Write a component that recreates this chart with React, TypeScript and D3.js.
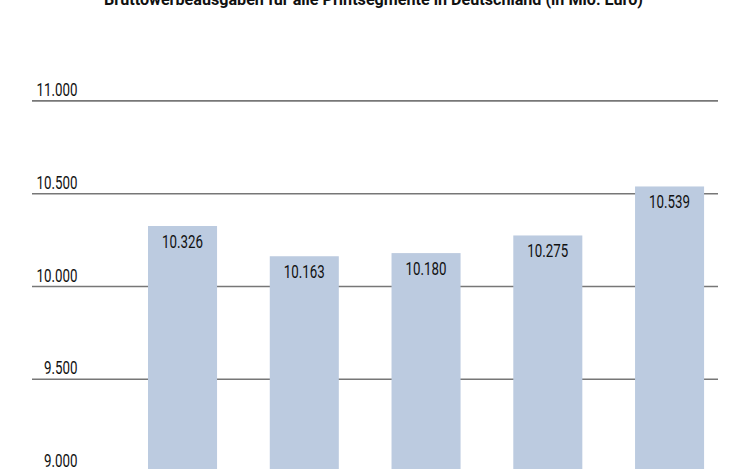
import React from "react";
import * as d3 from "d3";

const title = "Bruttowerbeausgaben für alle Printsegmente in Deutschland (in Mio. Euro)";
const categories = ["A", "B", "C", "D", "E"];
const values = [10326, 10163, 10180, 10275, 10539];
const ticks = [9000, 9500, 10000, 10500, 11000];

const W = 740;
const H = 469;
const FONT = "Roboto, 'Liberation Sans', Arial, sans-serif";
const fmt = (v: number) => d3.format(",")(v).replace(/,/g, ".");
const numLen = (s: string) =>
  s.split("").reduce((a, c) => a + (c === "." ? 3.7 : 7.45), 0);

export default function App() {
  const y = d3.scaleLinear().domain([9000, 11000]).range([472.1, 100.9]);
  const x = d3
    .scaleBand<string>()
    .domain(categories)
    .range([126.1, 726])
    .paddingInner(0.433)
    .paddingOuter(0.18);

  return (
    <svg
      width={W}
      height={H}
      style={{ position: "absolute", left: 0, top: 0, background: "#fff" }}
      fontFamily={FONT}
    >
      <rect x={0} y={0} width={W} height={H} fill="#fff" />
      <text
        x={373.5}
        y={4.8}
        textAnchor="middle"
        fontWeight="bold"
        fontSize={17}
        fill="#111"
        textLength={539}
        lengthAdjust="spacingAndGlyphs"
      >
        {title}
      </text>
      {ticks.map((t) => {
        const s = fmt(t);
        return (
          <g key={t}>
            <line x1={32} x2={718} y1={y(t)} y2={y(t)} stroke="#777" strokeWidth={1.6} />
            <text
              x={77.5 - numLen(s)}
              y={y(t) - 5}
              fontSize={17.5}
              fontWeight={400}
              fill="#111"
              textLength={numLen(s)}
              lengthAdjust="spacingAndGlyphs"
            >
              {s}
            </text>
          </g>
        );
      })}
      {values.map((v, i) => {
        const bx = x(categories[i]) as number;
        const top = y(v);
        const s = fmt(v);
        const L = numLen(s);
        return (
          <g key={i}>
            <rect x={bx} y={top} width={x.bandwidth()} height={H - top + 20} fill="#bccbe0" />
            <text
              x={bx + x.bandwidth() / 2 - L / 2}
              y={top + 22}
              fontSize={17.5}
              fontWeight={400}
              fill="#111"
              textLength={L}
              lengthAdjust="spacingAndGlyphs"
            >
              {s}
            </text>
          </g>
        );
      })}
    </svg>
  );
}
